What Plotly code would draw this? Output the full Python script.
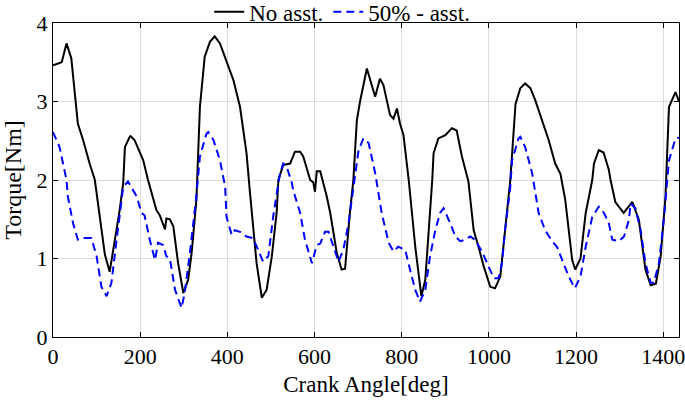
import plotly.graph_objects as go

# No assistance (black solid)
x_no = [0, 12, 20, 31, 42, 57, 69, 84, 96, 119, 130, 142, 153, 161, 165, 176, 178, 187, 207, 218,
        237, 245, 257, 260, 268, 276, 287, 299, 310, 318, 329, 337, 348, 360, 371, 383, 398, 414,
        429, 444, 452, 467, 479, 490, 502, 513, 517, 528, 544, 555, 567, 574, 590, 597, 601, 605,
        613, 628, 636, 651, 662, 670, 681, 689, 697, 705, 720, 728, 739, 750, 758, 773, 781, 789,
        796, 804, 816, 831, 845, 854, 865, 870, 873, 884, 900, 915, 926, 938, 953, 965, 976, 988,
        1003, 1014, 1026, 1037, 1049, 1061, 1072, 1083, 1095, 1106, 1122, 1137, 1152, 1164, 1175,
        1191, 1198, 1210, 1222, 1237, 1241, 1252, 1263, 1275, 1279, 1290, 1309, 1321, 1329, 1344,
        1359, 1371, 1383, 1394, 1405, 1413, 1428, 1436]
y_no = [3.46, 3.48, 3.50, 3.74, 3.55, 2.72, 2.51, 2.21, 2.00, 1.05, 0.83, 1.24, 1.62, 1.96, 2.42,
        2.55, 2.56, 2.51, 2.25, 2.00, 1.62, 1.55, 1.37, 1.51, 1.50, 1.41, 0.94, 0.56, 0.73, 1.07,
        1.75, 2.93, 3.57, 3.76, 3.83, 3.74, 3.50, 3.27, 2.93, 2.34, 1.83, 0.94, 0.50, 0.60, 1.03,
        1.58, 2.00, 2.19, 2.21, 2.36, 2.36, 2.30, 2.00, 1.97, 1.85, 2.11, 2.11, 1.79, 1.58, 1.07,
        0.86, 0.87, 1.58, 2.00, 2.76, 3.02, 3.42, 3.27, 3.06, 3.29, 3.21, 2.83, 2.78, 2.91, 2.72,
        2.57, 2.00, 1.15, 0.52, 0.73, 1.58, 2.00, 2.34, 2.53, 2.57, 2.66, 2.63, 2.30, 1.98, 1.36,
        1.15, 0.90, 0.64, 0.62, 0.77, 1.36, 2.00, 2.97, 3.17, 3.23, 3.17, 3.02, 2.76, 2.51, 2.21,
        2.08, 1.75, 0.98, 0.86, 1.00, 1.58, 2.00, 2.21, 2.38, 2.35, 2.13, 2.00, 1.72, 1.58, 1.66,
        1.72, 1.49, 0.86, 0.66, 0.68, 1.03, 1.79, 2.93, 3.12, 3.00]

# 50% assistance (blue dashed)
x_50 = [0, 15, 31, 34, 46, 57, 65, 88, 100, 111, 123, 134, 146, 161, 172, 192, 203, 210, 222, 234,
        241, 253, 260, 268, 280, 295, 302, 314, 329, 337, 352, 356, 368, 383, 395, 398, 410, 417,
        429, 444, 459, 471, 482, 494, 505, 517, 521, 528, 536, 548, 551, 567, 578, 594, 605, 613,
        624, 632, 643, 655, 666, 678, 689, 701, 712, 724, 739, 747, 754, 770, 781, 792, 808, 819,
        831, 842, 854, 865, 877, 888, 896, 911, 923, 934, 946, 957, 968, 984, 999, 1011, 1022,
        1030, 1037, 1049, 1053, 1068, 1072, 1083, 1099, 1110, 1114, 1129, 1145, 1156, 1168, 1183,
        1197, 1210, 1222, 1237, 1252, 1264, 1275, 1283, 1298, 1310, 1321, 1325, 1336, 1348, 1359,
        1371, 1378, 1390, 1401, 1409, 1413, 1428, 1436]
y_50 = [2.61, 2.42, 2.00, 1.79, 1.45, 1.24, 1.26, 1.26, 1.03, 0.64, 0.52, 0.69, 1.24, 1.91, 1.98,
        1.79, 1.58, 1.55, 1.24, 0.98, 1.20, 1.17, 1.03, 1.00, 0.60, 0.37, 0.56, 1.07, 1.80, 2.30,
        2.59, 2.61, 2.51, 2.25, 1.91, 1.53, 1.30, 1.36, 1.34, 1.28, 1.26, 1.11, 0.96, 1.03, 1.53,
        1.96, 2.09, 2.21, 2.17, 1.96, 1.87, 1.58, 1.24, 0.94, 1.17, 1.19, 1.34, 1.34, 1.15, 0.96,
        1.11, 1.45, 1.90, 2.38, 2.53, 2.47, 2.09, 1.79, 1.58, 1.20, 1.09, 1.15, 1.11, 0.86, 0.60,
        0.45, 0.60, 1.03, 1.36, 1.58, 1.64, 1.45, 1.28, 1.22, 1.24, 1.28, 1.24, 1.09, 0.90, 0.75,
        0.75, 0.94, 1.36, 1.91, 2.25, 2.53, 2.55, 2.42, 2.09, 1.75, 1.58, 1.36, 1.22, 1.15, 0.98,
        0.77, 0.62, 0.77, 1.15, 1.53, 1.66, 1.58, 1.45, 1.24, 1.22, 1.28, 1.49, 1.70, 1.64, 1.36,
        0.94, 0.69, 0.69, 0.94, 1.49, 2.00, 2.25, 2.53, 2.54]

x_ticks = [0, 200, 400, 600, 800, 1000, 1200, 1400]
y_ticks = [0, 1, 2, 3, 4]

FONT = "Times New Roman, Liberation Serif, serif"

fig = go.Figure()
fig.add_trace(go.Scatter(x=x_no, y=y_no, mode="lines", name="No asst.",
                         line=dict(color="black", width=2)))
fig.add_trace(go.Scatter(x=x_50, y=y_50, mode="lines", name="50% - asst.",
                         line=dict(color="#0000ff", width=2, dash="8px,5px")))

axis_common = dict(
    showline=True, linecolor="black", linewidth=1, mirror="ticks",
    ticks="inside", ticklen=5, tickcolor="black",
    showgrid=True, gridcolor="#dcdcdc", gridwidth=1, zeroline=False,
    tickfont=dict(family=FONT, size=22, color="black"),
    automargin=False, ticklabeloverflow="allow",
)

fig.update_layout(
    width=685, height=400,
    margin=dict(l=53, r=6, t=23, b=63, autoexpand=False),
    paper_bgcolor="white", plot_bgcolor="white",
    font=dict(family=FONT, color="black"),
    showlegend=True,
    legend=dict(orientation="h", x=0.462, xanchor="center", y=1.036, yanchor="middle",
                font=dict(family=FONT, size=23, color="black"),
                bgcolor="rgba(0,0,0,0)", itemwidth=30, tracegroupgap=0),
    xaxis=dict(range=[0, 1436], tickvals=x_ticks,
               title=dict(text="Crank Angle[deg]", font=dict(family=FONT, size=23), standoff=7),
               **axis_common),
    yaxis=dict(range=[0, 4], tickvals=y_ticks,
               title=dict(text="Torque[Nm]", font=dict(family=FONT, size=24), standoff=9),
               **axis_common),
)

fig.write_html("out.html", config={"displayModeBar": False},
               post_script="document.body.style.margin='0';document.body.style.padding='0';")
